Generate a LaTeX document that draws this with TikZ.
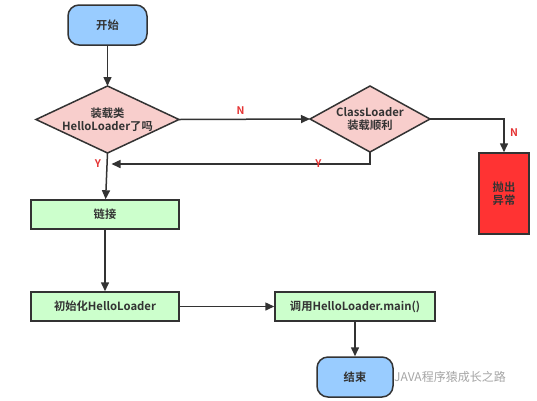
\documentclass[tikz,border=0pt]{standalone}
\usepackage{fontspec}
\setmainfont{Noto Sans CJK SC}[BoldFont={Noto Sans CJK SC Bold}]
\usetikzlibrary{arrows.meta,shapes.geometric}
\definecolor{bord}{HTML}{333333}
\definecolor{blu}{HTML}{99CCFF}
\definecolor{pinkd}{HTML}{F8CECC}
\definecolor{grn}{HTML}{CCFFCC}
\definecolor{redb}{HTML}{FF3333}
\definecolor{lab}{HTML}{E53333}
\tikzset{
  base/.style={draw=bord,line width=1.5pt,font=\fontsize{11.3}{13.5}\selectfont\bfseries,text=bord,align=center,inner sep=0pt},
  term/.style={base,fill=blu,rounded corners=11pt,minimum width=79pt,minimum height=40pt},
  proc/.style={base,fill=grn,minimum width=148pt,minimum height=29pt},
  conn/.style={draw=bord,line width=1.5pt,-{Triangle[length=9pt,width=8pt]}},
  yn/.style={text=lab,font=\fontsize{10.5}{12}\selectfont\bfseries}
}
\begin{document}
\begin{tikzpicture}[x=1pt,y=-1pt]
\useasboundingbox (0,0) rectangle (537,400);
\fill[white] (0,0) rectangle (537,400);
\node[term] (start) at (107.5,25) {开始};
\draw[base,fill=pinkd] (36,119.5) coordinate (d1w) -- (107.5,86) coordinate (d1n) -- (179,119.5) coordinate (d1e) -- (107.5,153) coordinate (d1s) -- cycle;
\node[base,draw=none] (d1) at (107.5,119.5) {装载类\\HelloLoader了吗};
\draw[base,fill=pinkd] (310,119) coordinate (d2w) -- (370,86) coordinate (d2n) -- (430,119) coordinate (d2e) -- (370,152) coordinate (d2s) -- cycle;
\node[base,draw=none] (d2) at (370,119) {ClassLoader\\装载顺利};
\node[base,fill=redb,minimum width=50pt,minimum height=81pt] (ex) at (504,193.5) {抛出\\异常};
\node[proc] (link) at (105,214.5) {链接};
\node[proc] (init) at (105,306.5) {初始化HelloLoader};
\node[base,fill=grn,minimum width=160pt,minimum height=29pt] (call) at (355,306.5) {调用HelloLoader.main()};
\node[term,minimum width=76pt] (end) at (355,377) {结束};
\coordinate (ymerge) at (107.5,164);
\draw[conn] (start) -- (d1n);
\draw[conn] (d1e) -- node[yn,above,pos=0.47,yshift=1pt] {N} (d2w);
\draw[conn] (d2e) -| node[yn,right,pos=0.7,xshift=2pt] {N} (ex.north);
\draw[conn] (d2s) |- node[yn,pos=0.6] {Y} ([xshift=4pt]ymerge);
\node[yn] at (98,164) {Y};
\draw[conn] (d1s) -- (link);
\draw[conn] (link) -- (init);
\draw[conn] (init) -- (call);
\draw[conn] (call) -- (end);
\node[text=gray!70,font=\fontsize{12}{14}\selectfont] (wm) at (450,377) {JAVA程序猿成长之路};
\end{tikzpicture}
\end{document}
